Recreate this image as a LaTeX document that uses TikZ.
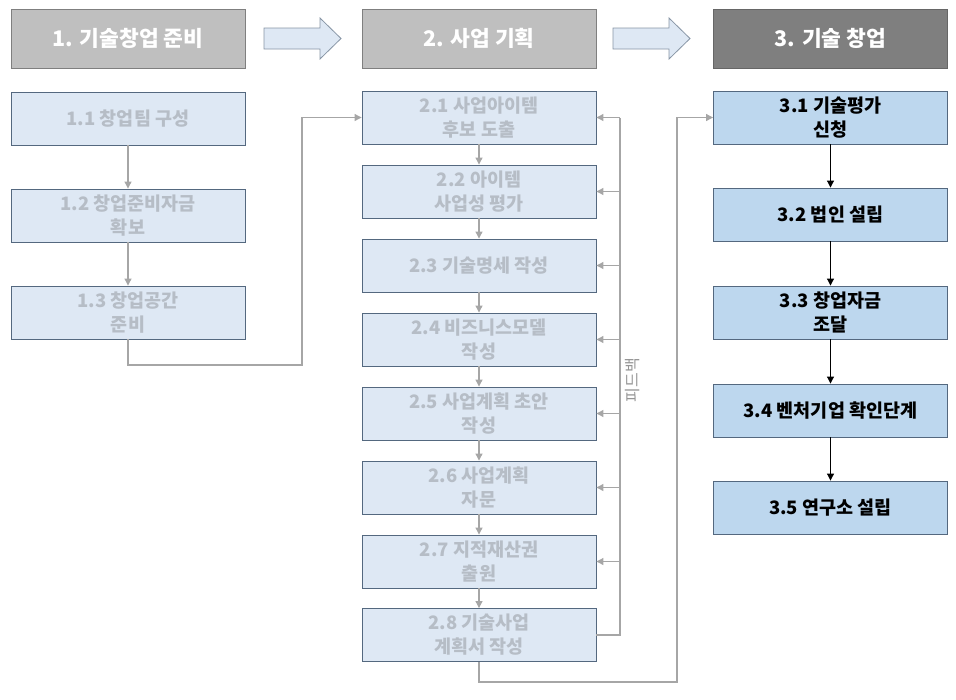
\documentclass[tikz,border=0pt]{standalone}
\usepackage{fontspec}
\setmainfont{Noto Sans CJK KR}
\usetikzlibrary{arrows.meta,positioning}
\definecolor{hdrlight}{HTML}{BFBFBF}
\definecolor{hdrdark}{HTML}{7F7F7F}
\definecolor{paleblue}{HTML}{DEE8F4}
\definecolor{midblue}{HTML}{BDD7EE}
\definecolor{boxline}{HTML}{54687F}
\definecolor{fadetext}{HTML}{B6BDC6}
\definecolor{linkgray}{HTML}{A6A6A6}
\tikzset{
  header/.style={draw=hdrdark, line width=0.8pt, minimum width=234pt, minimum height=59pt,
    text=white, font=\bfseries\fontsize{21.5}{25}\selectfont},
  fadebox/.style={draw=boxline, fill=paleblue, line width=0.9pt, minimum width=234pt, minimum height=53pt,
    align=center, text=fadetext, font=\bfseries\fontsize{18.5}{24}\selectfont},
  mainbox/.style={fadebox, fill=midblue, text=black},
  link/.style={draw=linkgray, line width=1.1pt, -{Triangle[length=7pt,width=7pt]}},
  plainlink/.style={draw=linkgray, line width=1.1pt},
  blacklink/.style={draw=black, line width=1pt, -{Triangle[length=7pt,width=7pt]}},
  bigarrow/.style={draw=boxline!70, fill=paleblue, line width=0.8pt}
}
\begin{document}
\begin{tikzpicture}[x=1pt,y=-1pt]
  \useasboundingbox (0,0) rectangle (956,699);
  \node[header, fill=hdrlight] (h1) at (128,38.5) {1. 기술창업 준비};
  \node[header, fill=hdrlight] (h2) at (479,38.5) {2. 사업 기획};
  \node[header, fill=hdrdark, draw=hdrdark!80!black] (h3) at (830.5,38.5) {3. 기술 창업};
  \foreach \x in {264,613} {
    \draw[bigarrow] (\x,28) -- (\x+56,28) -- (\x+56,18) -- (\x+77,38.5) -- (\x+56,59) -- (\x+56,49) -- (\x,49) -- cycle;
  }
  \foreach \k/\y/\n in {1/118.5/{1.1 창업팀 구성},2/215.5/{1.2 창업준비자금\\확보},3/312.5/{1.3 창업공간\\준비}} {
    \node[fadebox] (s1-\k) at (128,\y) {\n};
  }
  \foreach \k/\y/\n in {1/117.5/{2.1 사업아이템\\후보 도출},2/191.5/{2.2 아이템\\사업성 평가},3/265.5/{2.3 기술명세 작성},
      4/339.5/{2.4 비즈니스모델\\작성},5/413.5/{2.5 사업계획 초안\\작성},6/487.5/{2.6 사업계획\\자문},
      7/561.5/{2.7 지적재산권\\출원},8/635/{2.8 기술사업\\계획서 작성}} {
    \node[fadebox] (s2-\k) at (479,\y) {\n};
  }
  \foreach \k/\y/\n in {1/117.5/{3.1 기술평가\\신청},2/214.5/{3.2 법인 설립},3/312.5/{3.3 창업자금\\조달},
      4/410.5/{3.4 벤처기업 확인단계},5/507.5/{3.5 연구소 설립}} {
    \node[mainbox] (s3-\k) at (830.5,\y) {\n};
  }
  \foreach \a/\b in {1/2,2/3} {
    \draw[link] (s1-\a) -- (s1-\b);
  }
  \foreach \a/\b in {1/2,2/3,3/4,4/5,5/6,6/7,7/8} {
    \draw[link] (s2-\a) -- (s2-\b);
  }
  \foreach \a/\b in {1/2,2/3,3/4,4/5} {
    \draw[blacklink] (s3-\a) -- (s3-\b);
  }
  \coordinate (j1) at (302,365);
  \draw[link] (s1-3.south) |- (j1) |- (s2-1.west);
  \coordinate (fbtop) at (620,117.5);
  \draw[plainlink] (s2-8.east) -| (fbtop);
  \foreach \k in {1,...,7} {
    \draw[link] (fbtop |- s2-\k.east) -- (s2-\k.east);
  }
  \node[rotate=90, text=linkgray!90!black, font=\fontsize{16}{18}\selectfont] (fb) at (633,380) {피드백};
  \coordinate (j2) at (677,682);
  \draw[link] (s2-8.south) |- (j2) |- (s3-1.west);
\end{tikzpicture}
\end{document}
